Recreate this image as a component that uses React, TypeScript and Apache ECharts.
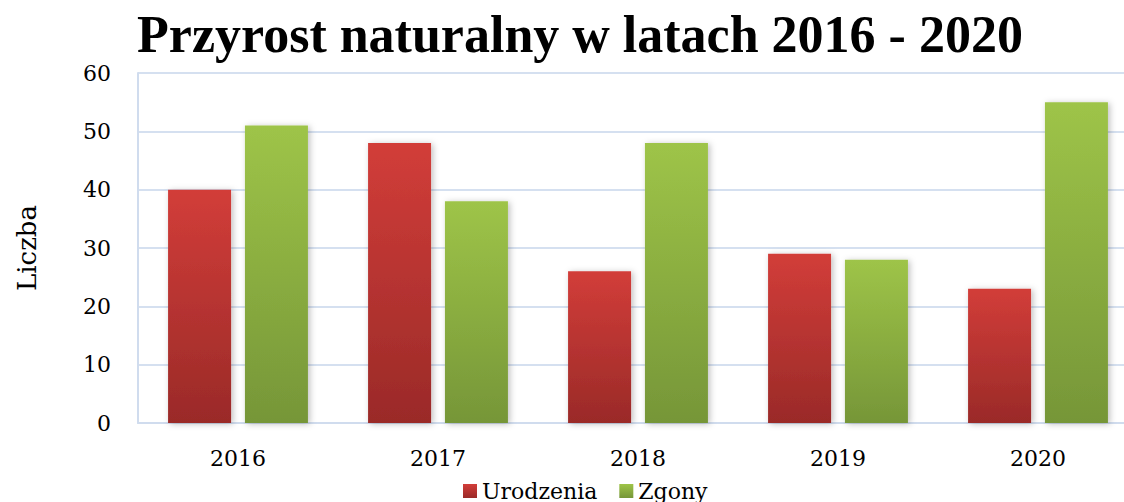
import React, { useEffect, useRef } from "react";
import * as echarts from "echarts";

const title = "Przyrost naturalny w latach 2016 - 2020";
const years = ["2016", "2017", "2018", "2019", "2020"];
const seriesNames = ["Urodzenia", "Zgony"];
const births = [40, 48, 26, 29, 23];
const deaths = [51, 38, 48, 28, 55];
const yAxisName = "Liczba";

const TITLE_FONT = "'Liberation Serif', 'DejaVu Serif', serif";
const FONT = "'DejaVu Serif', 'Liberation Serif', serif";

export default function App() {
  const ref = useRef<HTMLDivElement>(null);
  useEffect(() => {
    if (!ref.current) return;
    const chart = echarts.init(ref.current, null, { renderer: "svg" });
    const redGrad = new echarts.graphic.LinearGradient(0, 0, 0, 1, [
      { offset: 0, color: "#D23D39" },
      { offset: 1, color: "#9A2A28" },
    ]);
    const greenGrad = new echarts.graphic.LinearGradient(0, 0, 0, 1, [
      { offset: 0, color: "#9EC448" },
      { offset: 1, color: "#769638" },
    ]);
    chart.setOption({
      animation: false,
      backgroundColor: "#ffffff",
      title: {
        text: title,
        left: 575,
        top: 3,
        textAlign: "center",
        textStyle: {
          fontFamily: TITLE_FONT,
          fontWeight: "bold",
          fontSize: 52,
          color: "#000",
        },
      },
      legend: {
        data: seriesNames,
        left: 458,
        top: 475,
        itemWidth: 14,
        itemHeight: 14,
        itemGap: 22,
        icon: "rect",
        textStyle: { fontFamily: FONT, fontSize: 22, color: "#000" },
      },
      grid: {
        left: 138,
        right: -14,
        top: 73,
        bottom: 79,
        containLabel: false,
        outerBoundsMode: "none",
      },
      xAxis: {
        type: "category",
        data: years,
        axisLine: { show: true, lineStyle: { color: "#D0DCEE", width: 2 } },
        axisTick: { show: false },
        axisLabel: { fontFamily: FONT, fontSize: 22, color: "#000", margin: 24 },
      },
      yAxis: {
        type: "value",
        min: 0,
        max: 60,
        interval: 10,
        name: yAxisName,
        nameLocation: "middle",
        nameGap: 98,
        nameRotate: 90,
        nameTextStyle: { fontFamily: FONT, fontSize: 26, color: "#000" },
        axisLine: { show: true, lineStyle: { color: "#D0DCEE", width: 2 } },
        axisTick: { show: false },
        splitLine: { show: true, lineStyle: { color: "#D5E0F0", width: 2 } },
        axisLabel: { fontFamily: FONT, fontSize: 22, color: "#000", margin: 27 },
      },
      series: [
        {
          name: seriesNames[0],
          type: "bar",
          data: births,
          barWidth: 63,
          barGap: "22%",
          itemStyle: {
            color: redGrad,
            shadowColor: "rgba(0,0,0,0.25)",
            shadowBlur: 6,
            shadowOffsetX: 2,
            shadowOffsetY: 1,
          },
        },
        {
          name: seriesNames[1],
          type: "bar",
          data: deaths,
          barWidth: 63,
          itemStyle: {
            color: greenGrad,
            shadowColor: "rgba(0,0,0,0.25)",
            shadowBlur: 6,
            shadowOffsetX: 2,
            shadowOffsetY: 1,
          },
        },
      ],
    });
    return () => chart.dispose();
  }, []);
  return (
    <div
      ref={ref}
      style={{ position: "fixed", left: 0, top: 0, width: 1124, height: 502 }}
    />
  );
}
